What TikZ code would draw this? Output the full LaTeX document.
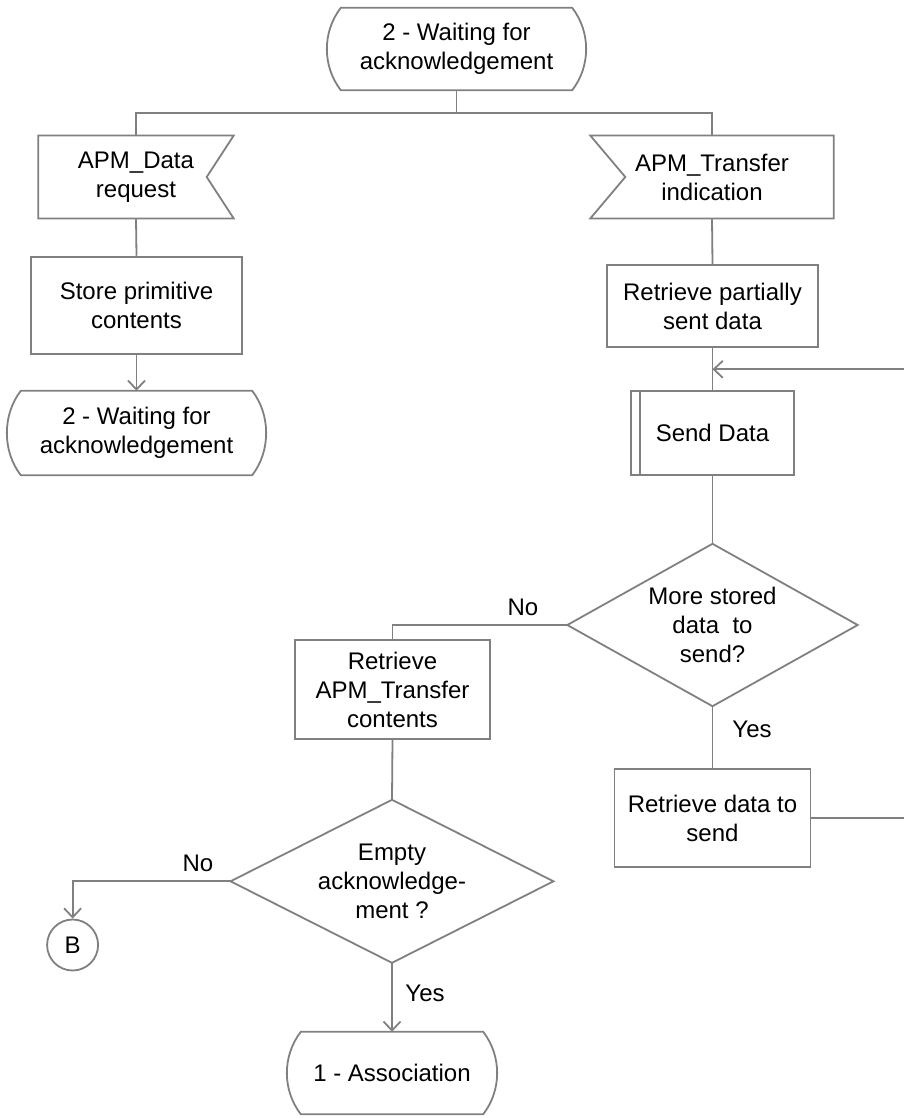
\documentclass[tikz,border=0pt]{standalone}
\usepackage{fontspec}
\setmainfont{Liberation Sans}
\usetikzlibrary{calc,arrows.meta}
\definecolor{edge}{RGB}{128,128,128}

% SDL state symbol: straight top and bottom, shallow arcs at both ends
\newcommand\sdlstate[1]{%
  \draw[line] ($(#1.north west)+(14,0)$) -- ($(#1.north east)+(-14,0)$)
    .. controls ($(#1.north east)+(4.6,24)$) and ($(#1.south east)+(4.6,-24)$) .. ($(#1.south east)+(-14,0)$)
    -- ($(#1.south west)+(14,0)$)
    .. controls ($(#1.south west)+(-4.6,-24)$) and ($(#1.north west)+(-4.6,24)$) .. cycle;}
% diamond drawn on the anchors of a plain node
\newcommand\sdldecision[1]{%
  \draw[line] (#1.north) -- (#1.east) -- (#1.south) -- (#1.west) -- cycle;}

\begin{document}
\begin{tikzpicture}[x=1pt,y=-1pt,
  every node/.style={font=\fontsize{24}{29}\selectfont, align=center, inner sep=0pt},
  line/.style={draw=edge, line width=1.8pt},
  flow/.style={line, -{Straight Barb[length=9pt,width=17pt]}},
  task/.style={line, fill=white},
  lbl/.style={font=\fontsize{24}{29}\selectfont}
]
\useasboundingbox (0,0) rectangle (904,1118);

% ---- nodes ----
\node[minimum width=259, minimum height=82] (top) at (456.5,49) {2 - Waiting for\\acknowledgement};
\node[minimum width=195, minimum height=82.5] (sigA) at (136,177) {APM\_Data\\request};
\node[minimum width=243, minimum height=82.5] (sigB) at (712,177) {APM\_Transfer\\indication};
\node[task, minimum width=210.5, minimum height=97.7] (store) at (136.5,305.5) {Store primitive\\contents};
\node[minimum width=259, minimum height=84] (waitL) at (136.5,433) {2 - Waiting for\\acknowledgement};
\node[task, minimum width=211, minimum height=82.5] (partial) at (712.5,306) {Retrieve partially\\sent data};
\node[task, minimum width=163, minimum height=84] (send) at (712.5,433) {Send Data};
\node[minimum width=290, minimum height=162] (more) at (712.5,625) {More stored\\data~~to\\send?};
\node[task, minimum width=195.5, minimum height=98.5] (apmT) at (392.5,689.5) {Retrieve\\APM\_Transfer\\contents};
\node[task, minimum width=196, minimum height=98.5] (retr) at (712.5,818) {Retrieve data to\\send};
\node[minimum width=322.5, minimum height=162.6] (empty) at (392,881.3) {Empty\\acknowledge-\\ment ?};
\node[line, circle, minimum size=51] (B) at (72.6,945) {B};
\node[minimum width=210, minimum height=82] (assoc) at (392,1073) {1 - Association};

% ---- outlines ----
\sdlstate{top}
\sdlstate{waitL}
\sdlstate{assoc}
\draw[line] (sigA.north west) -- (sigA.north east) -- ($(sigA.east)+(-27,0)$)
  -- (sigA.south east) -- (sigA.south west) -- cycle;
\draw[line] (sigB.north west) -- ($(sigB.west)+(35,0)$) -- (sigB.south west)
  -- (sigB.south east) -- (sigB.north east) -- cycle;
\draw[line] ($(send.north west)+(9.5,0)$) -- ($(send.south west)+(9.5,0)$);
\sdldecision{more}
\sdldecision{empty}

% ---- connectors ----
\coordinate (split) at (456.5,112.7);
\draw[line] (top.south) -- (split);
\draw[line] (sigA.north) |- (split) -| (sigB.north);
\draw[line] (sigA.south) -- (store.north);
\draw[flow] (store.south) -- (waitL.north);
\draw[line] (sigB.south) -- (partial.north);
\draw[line] (partial.south) -- (send.north);
\draw[line] (send.south) -- (more.north);
\draw[line] (more.west) -| (apmT.north);
\draw[line] (more.south) -- (retr.north);
\coordinate (merge) at (712.5,369.3);
\coordinate (rim) at (912,369.3);
\draw[flow] (retr.east) -| (rim) -- (merge);
\draw[line] (apmT.south) -- (empty.north);
\draw[flow] (empty.west) -| (B.north);
\draw[flow] (empty.south) -- (assoc.north);

% ---- branch labels ----
\node[lbl] (noA) at (523,607) {No};
\node[lbl] (yesA) at (752,729) {Yes};
\node[lbl] (noB) at (198,863) {No};
\node[lbl] (yesB) at (425,993) {Yes};
\end{tikzpicture}
\end{document}
